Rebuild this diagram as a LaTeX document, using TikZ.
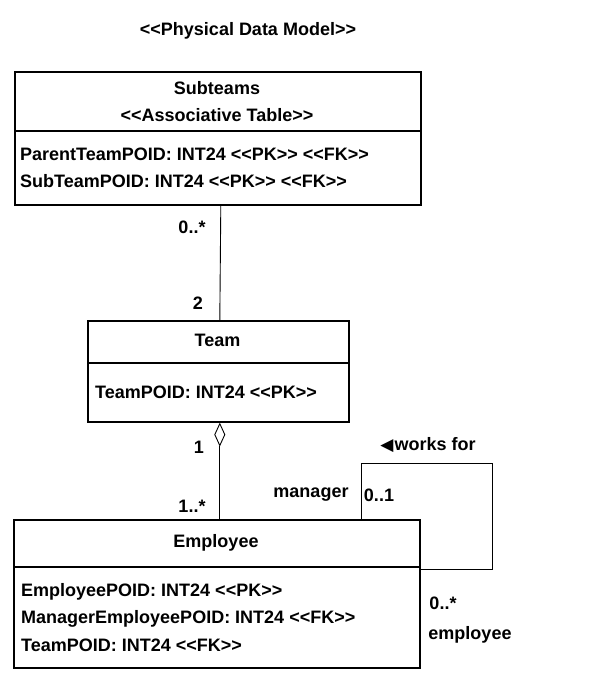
\documentclass[tikz,border=0pt]{standalone}
\usepackage{fontspec}
\setmainfont{Liberation Sans}
\newfontfamily\dejavu{DejaVu Sans}
\newcommand\LA{<\kern0pt<}
\newcommand\RA{>\kern0pt>}
\usetikzlibrary{arrows.meta}
\begin{document}
\begin{tikzpicture}[x=1pt,y=-1pt,
  box/.style={draw, line width=1.6pt, inner sep=0pt, anchor=north west},
  divider/.style={line width=1.6pt},
  conn/.style={line width=0.9pt},
  txt/.style={font=\bfseries\fontsize{18}{21}\selectfont, inner sep=0pt},
  attr/.style={txt, anchor=west},
  lbl/.style={txt}]
\useasboundingbox (0,0) rectangle (598,678);
% title
\node[txt] (title) at (248,31) {\LA Physical Data Model\RA};
% Subteams
\node[box, minimum width=406pt, minimum height=133pt] (sub) at (14,71) {};
\draw[divider] (14,131) -- (420,131);
\node[txt] (subn) at (217,88) {Subteams};
\node[txt] (subs) at (217,115) {\LA Associative Table\RA};
\node[attr] (sa1) at (20,154) {ParentTeamPOID: INT24 \LA PK\RA{} \LA FK\RA};
\node[attr] (sa2) at (20,181) {SubTeamPOID: INT24 \LA PK\RA{} \LA FK\RA};
% Team
\node[box, minimum width=261pt, minimum height=101pt] (team) at (87,320) {};
\draw[divider] (87,363) -- (348,363);
\node[txt] (teamn) at (217.5,340) {Team};
\node[attr] (ta1) at (95,392) {TeamPOID: INT24 \LA PK\RA};
% Employee
\node[box, minimum width=406pt, minimum height=148pt] (emp) at (13,519) {};
\draw[divider] (13,567) -- (419,567);
\node[txt] (empn) at (216,543) {Employee};
\node[attr] (ea1) at (21,592) {EmployeePOID: INT24 \LA PK\RA};
\node[attr] (ea2) at (21,619) {ManagerEmployeePOID: INT24 \LA FK\RA};
\node[attr] (ea3) at (21,645) {TeamPOID: INT24 \LA FK\RA};
% connectors
\draw[conn] ([xshift=3pt]sub.south) -- ([xshift=1.5pt]team.north);
\draw[conn, {Diamond[open,length=24pt,width=11pt,line width=0.9pt]}-] ([xshift=1.5pt]team.south) -- ([xshift=3pt]emp.north);
\coordinate (lp1) at (492,463);
\draw[conn] ([xshift=145pt]emp.north) |- (lp1) |- ([yshift=24pt]emp.east);
% labels
\node[lbl] (m1) at (192,227) {0..*};
\node[lbl] (m2) at (198,303) {2};
\node[lbl] (m3) at (199,447) {1};
\node[lbl] (m4) at (192,506) {1..*};
\node[lbl] (wf) at (428,445) {{\dejavu\fontsize{17}{19}\selectfont ◀}\kern1pt works for};
\node[lbl] (mgr) at (311,495) {manager};
\node[lbl] (m5) at (379,495) {0..1};
\node[lbl] (m6) at (443,603) {0..*};
\node[lbl] (empl) at (470,635) {employee};
\end{tikzpicture}
\end{document}
